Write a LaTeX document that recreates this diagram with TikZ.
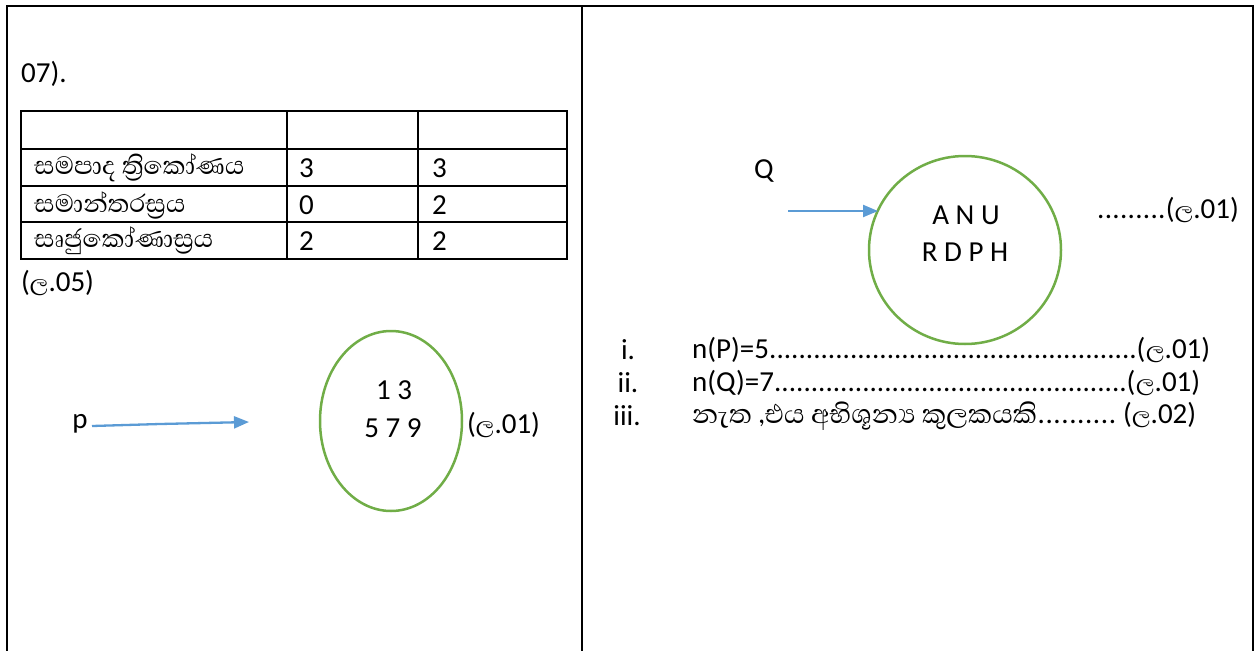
\documentclass[tikz,border=0pt]{standalone}
\usepackage{fontspec}
\setmainfont{Carlito}
\newfontfamily\sinfont[Script=Sinhala]{Abhaya Libre}
\usetikzlibrary{shapes.geometric,arrows.meta}
\definecolor{setgreen}{HTML}{70AD47}
\definecolor{arrblue}{HTML}{5B9BD5}
\newcommand\lmark{{\sinfont ල}}
\newcommand\dotrun{\xleaders\hbox{.}\hfill}
\begin{document}
\begin{tikzpicture}[x=1pt,y=-1pt,
  txt/.style={inner sep=0pt, font=\fontsize{29}{34}\selectfont},
  big/.style={inner sep=0pt, font=\fontsize{29}{34}\selectfont, align=center},
  sin/.style={inner sep=0pt, font=\fontsize{32}{36}\sinfont},
  frame/.style={line width=2.5pt, black},
  grid/.style={line width=2pt, black},
  setellipse/.style={ellipse, draw=setgreen, line width=2.5pt, inner sep=0pt},
  arr/.style={draw=arrblue, line width=2.3pt, -{Triangle[length=15pt,width=12pt]}}]
\useasboundingbox (0,0) rectangle (1254,651);
% frame
\draw[frame] (7,651) -- (7,6) -- (1253,6) -- (1253,651);
\draw[frame] (582,6) -- (582,651);
% heading
\node[txt, anchor=west] (head) at (21,74) {07).};
% table
\draw[grid] (21,111) rectangle (567,259);
\draw[grid] (21,149) -- (567,149);
\draw[grid] (21,186) -- (567,186);
\draw[grid] (21,222) -- (567,222);
\draw[grid] (287,111) -- (287,259);
\draw[grid] (418,111) -- (418,259);
\node[sin, anchor=west] (r1) at (34,168) {සමපාද ත්^^^^200dරිකෝණය};
\node[sin, anchor=west] (r2) at (34,205) {සමාන්තරස්^^^^200dරය};
\node[sin, anchor=west] (r3) at (34,241) {සෘජුකෝණාස්^^^^200dරය};
\node[txt, anchor=west] (a1) at (299,168) {3};
\node[txt, anchor=west] (b1) at (432,168) {3};
\node[txt, anchor=west] (a2) at (299,205) {0};
\node[txt, anchor=west] (b2) at (432,205) {2};
\node[txt, anchor=west] (a3) at (299,241) {2};
\node[txt, anchor=west] (b3) at (432,241) {2};
\node[txt, anchor=west] (m05) at (21,283) {(\lmark.05)};
% set P
\node[setellipse, minimum width=142pt, minimum height=180pt] (PE) at (391,421) {};
\node[big] (P1) at (394,390) {1 3};
\node[big] (P2) at (393,428) {5 7 9};
\node[txt, anchor=west] (mP) at (467,425) {(\lmark.01)};
\node[txt] (pl) at (80,424) {p};
\coordinate (ps) at (92,426);
\coordinate (pm) at (160,424);
\coordinate (pe) at (249,422);
\draw[arr] (ps) -- (pm) -- (pe);
% set Q
\node[txt] (ql) at (764,171) {Q};
\node[setellipse, minimum width=192pt, minimum height=188pt] (QE) at (965,250) {};
\node[big] (Q1) at (966,215) {A N U};
\node[big] (Q2) at (965,252) {R D P H};
\coordinate (qs) at (788,211);
\coordinate (qe) at (878,211);
\draw[arr] (qs) -- (qe);
\node[txt, anchor=east] (mQ) at (1239,210) {\hbox to 142pt{\dotrun(\lmark.01)}};
% answers
\node[txt] (n1) at (628,350) {i.};
\node[txt] (n2) at (628,383) {ii.};
\node[txt] (n3) at (627,416) {iii.};
\node[txt, anchor=west] (t1) at (692,350) {\hbox to 518pt{n(P)=5\dotrun(\lmark.01)}};
\node[txt, anchor=west] (t2) at (692,383) {\hbox to 508pt{n(Q)=7\dotrun(\lmark.01)}};
\node[txt, anchor=west] (t3) at (692,416) {\hbox to 504pt{{\sinfont\fontsize{34}{38}\selectfont නැත ,එය අභිශූන්^^^^200dය කුලකයකි}\dotrun\ (\lmark.02)}};
\end{tikzpicture}
\end{document}
